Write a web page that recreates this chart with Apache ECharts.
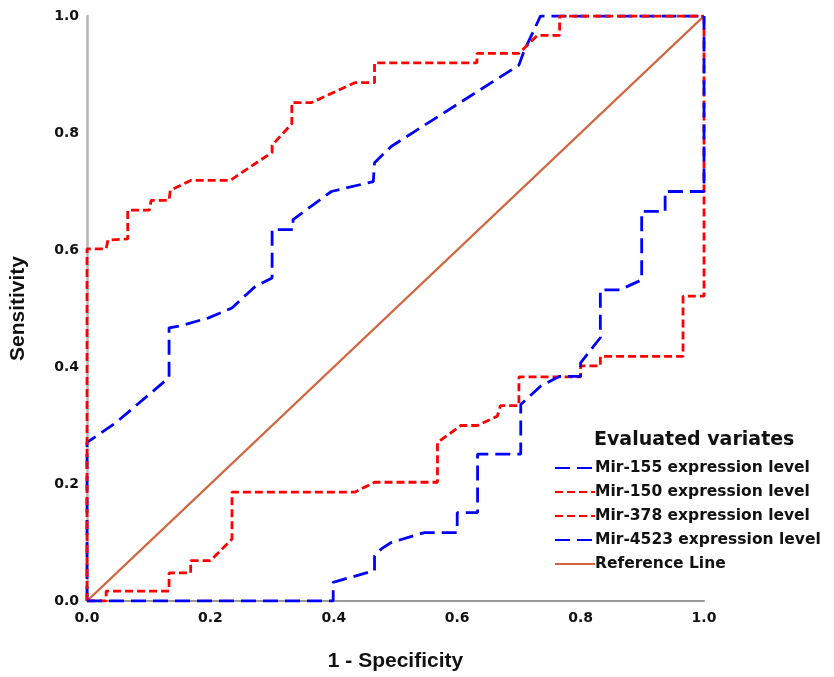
<!DOCTYPE html>
<html>
<head>
<meta charset="utf-8">
<script src="https://cdn.jsdelivr.net/npm/echarts@6/dist/echarts.min.js"></script>
<style>
  html, body { margin: 0; padding: 0; background: #fff; }
  #roc { width: 834px; height: 677px; }
</style>
</head>
<body>
<div id="roc"></div>
<script>
// ROC points [1 - specificity, sensitivity]
var mir155 = [
  [0, 0], [0, 0.271], [0.047, 0.305], [0.133, 0.382], [0.133, 0.467], [0.15, 0.47],
  [0.197, 0.484], [0.235, 0.501], [0.273, 0.538], [0.30, 0.552], [0.30, 0.635],
  [0.334, 0.635], [0.334, 0.652], [0.396, 0.70], [0.464, 0.717], [0.466, 0.749],
  [0.493, 0.777], [0.70, 0.916], [0.708, 0.939], [0.735, 1.0], [1, 1]
];
var mir150 = [
  [0, 0], [0, 0.602], [0.031, 0.602], [0.034, 0.617], [0.066, 0.619], [0.066, 0.668],
  [0.101, 0.668], [0.104, 0.685], [0.133, 0.685], [0.135, 0.702], [0.168, 0.719],
  [0.232, 0.719], [0.30, 0.767], [0.30, 0.779], [0.332, 0.816], [0.332, 0.852],
  [0.364, 0.852], [0.434, 0.886], [0.466, 0.886], [0.466, 0.92], [0.632, 0.92],
  [0.632, 0.936], [0.70, 0.936], [0.730, 0.967], [0.766, 0.967], [0.766, 1.0], [1, 1]
];
var mir378 = [
  [0, 0], [0.031, 0], [0.031, 0.017], [0.133, 0.017], [0.133, 0.048], [0.168, 0.048],
  [0.168, 0.069], [0.20, 0.069], [0.235, 0.106], [0.235, 0.186], [0.434, 0.186],
  [0.466, 0.203], [0.568, 0.203], [0.568, 0.271], [0.606, 0.30], [0.633, 0.30],
  [0.665, 0.316], [0.670, 0.334], [0.70, 0.334], [0.70, 0.383], [0.80, 0.383],
  [0.80, 0.402], [0.832, 0.402], [0.832, 0.418], [0.966, 0.418], [0.966, 0.521],
  [1, 0.521], [1, 1]
];
var mir4523 = [
  [0, 0], [0.399, 0], [0.399, 0.032], [0.466, 0.052], [0.466, 0.077], [0.477, 0.089],
  [0.493, 0.10], [0.547, 0.117], [0.60, 0.117], [0.60, 0.151], [0.633, 0.151],
  [0.633, 0.251], [0.703, 0.251], [0.703, 0.336], [0.735, 0.367], [0.766, 0.384],
  [0.80, 0.384], [0.80, 0.407], [0.832, 0.45], [0.832, 0.532], [0.864, 0.532],
  [0.899, 0.549], [0.899, 0.666], [0.937, 0.666], [0.937, 0.70], [1, 0.70], [1, 1]
];
var refLine = [[0, 0], [1, 1]];
var seriesNames = ['Mir-155 expression level', 'Mir-150 expression level',
  'Mir-378 expression level', 'Mir-4523 expression level', 'Reference Line'];

var longDash = { color: '#0000ff', width: 2.8, type: [15, 7] };
var shortDash = { color: '#ff0000', width: 2.8, type: [8, 4] };

function curve(name, data, style) {
  return {
    name: name,
    type: 'line',
    data: data,
    symbol: 'none',
    lineStyle: style,
    itemStyle: { color: style.color },
    z: 3
  };
}

var chart = echarts.init(document.getElementById('roc'));
chart.setOption({
  animation: false,
  backgroundColor: '#fff',
  title: {
    text: 'Evaluated variates',
    left: 589,
    top: 426,
    textStyle: { fontFamily: 'DejaVu Sans', fontWeight: 'bold', fontSize: 19, color: '#111' }
  },
  legend: {
    orient: 'vertical',
    left: 549,
    top: 455,
    itemWidth: 40,
    itemHeight: 14,
    itemGap: 8,
    data: seriesNames,
    itemStyle: { opacity: 0 },
    textStyle: {
      fontFamily: 'DejaVu Sans', fontWeight: 'bold', fontSize: 15.5, lineHeight: 16,
      color: '#111', padding: [0, 0, 0, -5]
    }
  },
  grid: { left: 84, right: 130, top: 16, bottom: 75, containLabel: false },
  xAxis: {
    type: 'value',
    min: 0,
    max: 1,
    interval: 0.2,
    name: '1 - Specificity',
    nameLocation: 'middle',
    nameGap: 50,
    nameTextStyle: { fontFamily: 'Liberation Sans', fontWeight: 'bold', fontSize: 21, color: '#111' },
    axisLine: { lineStyle: { color: '#999', width: 2 } },
    axisTick: { show: false },
    splitLine: { show: false },
    axisLabel: {
      fontFamily: 'DejaVu Sans', fontWeight: 'bold', fontSize: 14, color: '#111', margin: 10,
      formatter: function (v) { return v.toFixed(1); }
    }
  },
  yAxis: {
    type: 'value',
    min: 0,
    max: 1,
    interval: 0.2,
    name: 'Sensitivity',
    nameLocation: 'middle',
    nameGap: 58,
    nameTextStyle: { fontFamily: 'Liberation Sans', fontWeight: 'bold', fontSize: 21, color: '#111' },
    axisLine: { show: true, lineStyle: { color: '#b5b5b5', width: 2.5 } },
    axisTick: { show: false },
    splitLine: { show: false },
    axisLabel: {
      fontFamily: 'DejaVu Sans', fontWeight: 'bold', fontSize: 14, color: '#111', margin: 8,
      formatter: function (v) { return v.toFixed(1); }
    }
  },
  series: [
    curve(seriesNames[0], mir155, longDash),
    curve(seriesNames[1], mir150, shortDash),
    curve(seriesNames[2], mir378, shortDash),
    curve(seriesNames[3], mir4523, longDash),
    {
      name: seriesNames[4],
      type: 'line',
      data: refLine,
      symbol: 'none',
      lineStyle: { color: '#d2643f', width: 2.4, type: 'solid' },
      itemStyle: { color: '#d2643f' },
      z: 2
    }
  ]
});
</script>
</body>
</html>
